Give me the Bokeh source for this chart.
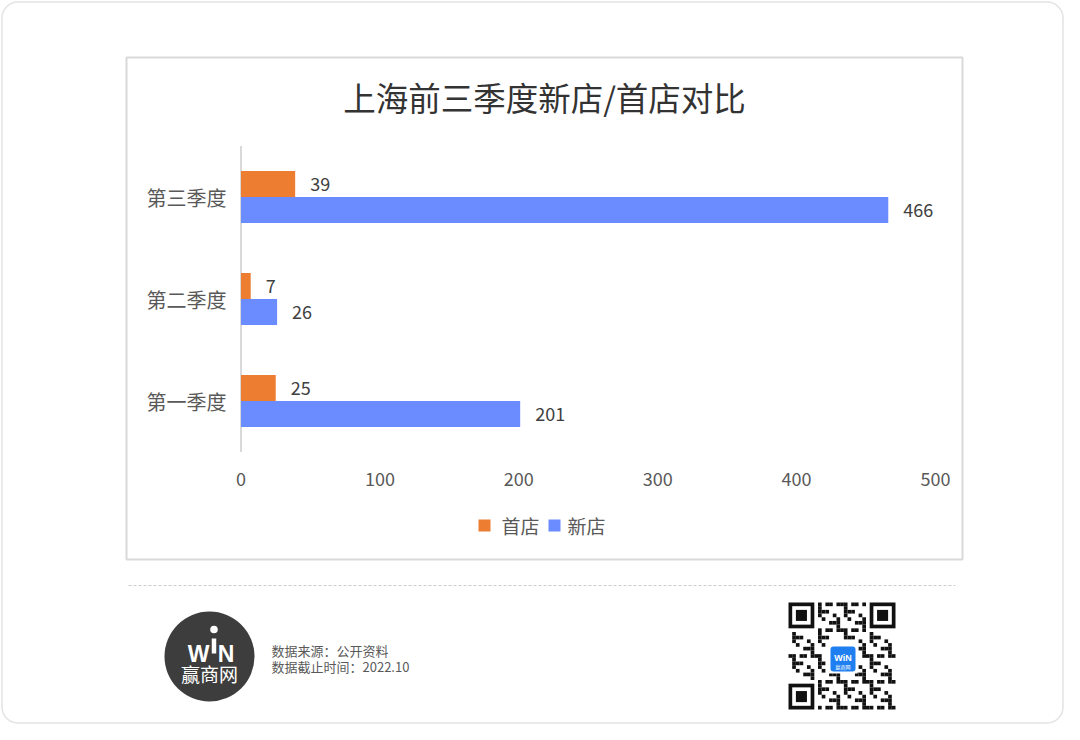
import numpy as np
from bokeh.plotting import figure
from bokeh.models import Range1d, ColumnDataSource
from bokeh.core.properties import value
from bokeh.embed import file_html
from bokeh.resources import INLINE

# ---------------- data ----------------
title_text = "上海前三季度新店/首店对比"
quarters = ["第一季度", "第二季度", "第三季度"]
first_store = [25, 7, 39]      # 首店
new_store = [201, 26, 466]     # 新店
x_ticks = [0, 100, 200, 300, 400, 500]
legend_labels = ["首店", "新店"]
source_lines = ["数据来源：公开资料", "数据截止时间：2022.10"]
brand_name = "赢商网"

ORANGE = "#ED7D31"
BLUE = "#6A8CFF"
CJK = value("Noto Sans CJK SC")
LATIN_BOLD = value("Liberation Sans")

# ---------------- figure (pixel-like base ranges) ----------------
W, H = 1064, 724
p = figure(width=W, height=H,
           x_range=Range1d(0, W), y_range=Range1d(H, 0),
           x_axis_location=None, y_axis_location=None,
           min_border=0, toolbar_location=None, output_backend="svg",
           outline_line_color=None)
p.background_fill_color = "white"
p.border_fill_color = "white"
p.grid.visible = False

# value scale (x) and category scale (y)
x0_px, x500_px = 240.5, 935.0
ppu = (x500_px - x0_px) / 500.0
p.extra_x_ranges = {"val": Range1d(-x0_px / ppu, (W - x0_px) / ppu)}
cat0_px, cat_step = 400.5, 102.0
p.extra_y_ranges = {"cat": Range1d(-(H - cat0_px) / cat_step, cat0_px / cat_step)}

# ---------------- frames ----------------
p.quad(left=[1.5], right=[W - 1.5], top=[1.5], bottom=[H - 1.5], fill_color=None,
       line_color="#e3e3e3", line_width=1.5, border_radius=16)
p.quad(left=[126], right=[962], top=[57], bottom=[559], fill_color=None,
       line_color="#d9d9d9", line_width=2)

# title
p.text(x=[544], y=[96], text=[title_text], text_align="center", text_baseline="middle",
       text_font=CJK, text_font_size="32.5px", text_color="#333333")

# category axis line
p.segment(x0=[0], x1=[0], y0=[-0.5], y1=[len(quarters) - 0.5],
          x_range_name="val", y_range_name="cat", line_color="#d9d9d9", line_width=2)

# bars
idx = np.arange(len(quarters))
off, bh = 0.1275, 0.255
src = ColumnDataSource(dict(
    q=quarters, idx=idx,
    first=first_store, new=new_store,
    first_lbl=[str(v) for v in first_store], new_lbl=[str(v) for v in new_store],
    y_first=idx + off, y_new=idx - off))

p.hbar(y="y_first", left=0, right="first", height=bh, fill_color=ORANGE, line_color=None,
       source=src, x_range_name="val", y_range_name="cat")
p.hbar(y="y_new", left=0, right="new", height=bh, fill_color=BLUE, line_color=None,
       source=src, x_range_name="val", y_range_name="cat")

# value labels
for xcol, ycol, tcol in [("first", "y_first", "first_lbl"), ("new", "y_new", "new_lbl")]:
    p.text(x=xcol, y=ycol, text=tcol, source=src, x_offset=15,
           text_align="left", text_baseline="middle", text_font=CJK,
           text_font_size="18px", text_color="#404040",
           x_range_name="val", y_range_name="cat")

# category labels
p.text(x=226, y="idx", text="q", source=src, text_align="right", text_baseline="middle",
       text_font=CJK, text_font_size="20px", text_color="#595959", y_range_name="cat")

# x tick labels
p.text(x=x_ticks, y=[478] * len(x_ticks), text=[str(t) for t in x_ticks],
       text_align="center", text_baseline="middle", text_font=CJK,
       text_font_size="18px", text_color="#595959", x_range_name="val")

# legend
p.rect(x=[484, 554], y=[525, 525], width=12, height=12,
       fill_color=[ORANGE, BLUE], line_color=None)
p.text(x=[501, 567], y=[525, 525], text=legend_labels, text_align="left",
       text_baseline="middle", text_font=CJK, text_font_size="19px", text_color="#595959")

# dashed separator
p.segment(x0=[128], x1=[955], y0=[585], y1=[585], line_color="#cccccc",
          line_width=1, line_dash="3 2")

# ---------------- footer logo ----------------
p.circle(x=[209], y=[656], radius=45, fill_color="#3d3d3d", line_color=None)
p.text(x=[198, 225.5], y=[653, 653], text=["W", "N"], text_align="center",
       text_baseline="alphabetic", text_font=LATIN_BOLD, text_font_style="bold",
       text_font_size="23px", text_color="white")
p.rect(x=[213.5], y=[645.5], width=4.5, height=15, fill_color="white", line_color=None)
p.circle(x=[213.5], y=[629], radius=3.8, fill_color="white", line_color=None)
p.text(x=[209], y=[673], text=[brand_name], text_align="center", text_baseline="middle",
       text_font=CJK, text_font_size="19px", text_color="white")

# footer source text
p.text(x=[271, 271], y=[650, 666], text=source_lines, text_align="left",
       text_baseline="middle", text_font=CJK, text_font_size="13px", text_color="#595959")

# ---------------- QR-like decoration ----------------
n = 29
qx0, qy0, qs = 788.0, 602.0, 107.0
m = qs / n

def in_finder(i, j):
    return (i < 8 and j < 8) or (i < 8 and j > n - 9) or (i > n - 9 and j < 8)

def in_center(i, j):
    return 10 <= i <= 18 and 10 <= j <= 18

mx, my = [], []
for i in range(n):
    for j in range(n):
        if in_finder(i, j) or in_center(i, j):
            continue
        if (i * i * 3 + j * 7 + i * j * 5 + j * j) % 7 < 3:
            mx.append(qx0 + (j + 0.5) * m)
            my.append(qy0 + (i + 0.5) * m)
p.rect(x=mx, y=my, width=m, height=m, fill_color="#111111", line_color=None)

for (fi, fj) in [(0, 0), (0, n - 7), (n - 7, 0)]:
    cx = qx0 + (fj + 3.5) * m
    cy = qy0 + (fi + 3.5) * m
    p.rect(x=[cx], y=[cy], width=7 * m, height=7 * m, fill_color="#111111", line_color=None)
    p.rect(x=[cx], y=[cy], width=5 * m, height=5 * m, fill_color="white", line_color=None)
    p.rect(x=[cx], y=[cy], width=3 * m, height=3 * m, fill_color="#111111", line_color=None)

p.quad(left=[828], right=[857], top=[644], bottom=[673], fill_color="white", line_color=None)
p.quad(left=[830], right=[855], top=[646], bottom=[671], fill_color="#1f7ff0",
       line_color=None, border_radius=3)
p.text(x=[842.5], y=[657], text=["WiN"], text_align="center", text_baseline="middle",
       text_font=LATIN_BOLD, text_font_style="bold", text_font_size="9px", text_color="white")
p.text(x=[842.5], y=[666], text=[brand_name], text_align="center", text_baseline="middle",
       text_font=CJK, text_font_size="5px", text_color="white")

open("out.html", "w").write(file_html(p, INLINE))
